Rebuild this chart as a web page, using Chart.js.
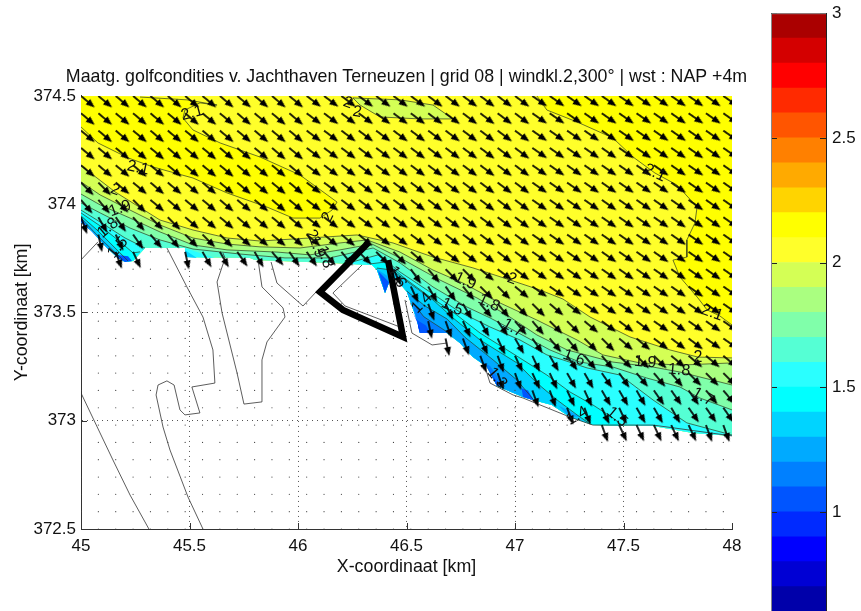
<!DOCTYPE html>
<html>
<head>
<meta charset="utf-8">
<script src="https://cdn.jsdelivr.net/npm/chart.js@4"></script>
<style>
  html, body { margin: 0; padding: 0; background: #fff; width: 861px; height: 611px; overflow: hidden; }
  #map { position: absolute; left: 0; top: 0; }
  #bar { position: absolute; left: 750px; top: -3px; }
</style>
</head>
<body>
<canvas id="map" width="813" height="611"></canvas>
<canvas id="bar" width="111" height="660"></canvas>
<script>
const titleText = 'Maatg. golfcondities v. Jachthaven Terneuzen | grid 08 | windkl.2,300° | wst : NAP +4m';

// colour bar levels, low to high
const levelEdges = [0.5, 0.6, 0.7, 0.8, 0.9, 1, 1.1, 1.2, 1.3, 1.4, 1.5, 1.6, 1.7, 1.8, 1.9, 2, 2.1, 2.2, 2.3, 2.4, 2.5, 2.6, 2.7, 2.8, 2.9, 3];
const levelColors = ['#00007f', '#0000aa', '#0000d4', '#0000ff', '#002aff', '#0055ff', '#0080ff', '#00aaff', '#00d4ff', '#00ffff',
  '#2affff', '#55ffd4', '#80ffaa', '#aaff80', '#d4ff55', '#ffff2a', '#ffff00', '#ffd400', '#ffaa00', '#ff8000', '#ff5500', '#ff2a00', '#ff0000', '#d40000', '#aa0000'];
const barTicks = [1, 1.5, 2, 2.5, 3];

// waterline in km, west to east
const shore = [[45,373.918],[45.055,373.872],[45.111,373.807],[45.17,373.752],[45.203,373.733],[45.24,373.738],[45.295,373.798],
  [45.479,373.798],[45.484,373.756],[45.779,373.752],[45.802,373.742],[46.161,373.729],[46.341,373.719],[46.364,373.696],[46.401,373.59],
  [46.424,373.65],[46.456,373.65],[46.502,373.595],[46.548,373.465],[46.562,373.405],[46.687,373.405],[46.746,373.359],[46.806,373.294],
  [46.871,373.248],[46.917,373.16],[47.037,373.11],[47.083,373.096],[47.17,373.073],[47.253,373.017],[47.359,372.98],[47.636,372.976],
  [47.82,372.943],[48,372.93]];

// contour lines (wave height, m)
const c21west = [[45,374.357],[45.078,374.283],[45.217,374.214],[45.332,374.172],[45.516,374.121],[45.673,374.052],[45.857,373.987],[45.977,373.936],
  [46.101,373.936],[46.157,373.973],[46.18,374.01],[46.009,374.135],[45.825,374.218],[45.641,374.283],[45.516,374.343],[45.47,374.398],
  [45.479,374.435],[45.548,374.468],[45.627,374.458],[45.488,374.482],[45.272,374.495]];
const c21east = [[47.101,374.5],[47.147,374.435],[47.286,374.38],[47.451,374.306],[47.544,374.218],[47.645,374.144],[47.746,374.089],[47.839,373.987],
  [47.829,373.913],[47.792,373.835],[47.792,373.756],[47.728,373.742],[47.76,373.664],[47.843,373.567],[47.885,373.512],[47.944,373.484],[48,373.442]];
const island20 = [[46.253,374.491],[46.47,374.482],[46.622,374.458],[46.714,374.394],[46.562,374.394],[46.378,374.403],[46.286,374.458],[46.253,374.491]];
const c20 = [[45,374.177],[45.074,374.121],[45.157,374.057],[45.364,373.927],[45.516,373.881],[45.673,373.844],[45.825,373.83],[46.055,373.844],[46.272,373.858],
  [46.438,373.821],[46.622,373.756],[46.806,373.706],[46.977,373.65],[47.115,373.604],[47.221,373.562],[47.346,373.479],[47.53,373.387],[47.714,373.327],[47.843,373.294],[48,373.29]];
const c19 = [[45,374.103],[45.088,374.043],[45.226,373.973],[45.364,373.904],[45.516,373.844],[45.673,373.816],[45.825,373.803],[46.009,373.798],[46.193,373.821],[46.318,373.835],
  [46.47,373.779],[46.622,373.696],[46.76,373.636],[46.931,373.544],[47.101,373.465],[47.286,373.373],[47.405,373.304],[47.576,373.267],[47.76,373.257],[48,373.267]];
const c18 = [[45,374.047],[45.088,373.997],[45.226,373.936],[45.364,373.872],[45.516,373.812],[45.673,373.789],[45.903,373.779],[46.055,373.766],[46.193,373.789],[46.341,373.816],
  [46.47,373.752],[46.654,373.65],[46.825,373.567],[46.963,373.488],[47.101,373.396],[47.24,373.327],[47.451,373.271],[47.636,373.248],[47.76,373.225],[48,373.165]];
const c17 = [[45,374.006],[45.088,373.96],[45.226,373.89],[45.364,373.835],[45.516,373.793],[45.733,373.77],[45.94,373.752],[46.147,373.752],[46.263,373.779],[46.346,373.798],
  [46.47,373.729],[46.622,373.618],[46.779,373.525],[46.885,373.475],[46.991,373.419],[47.161,373.327],[47.299,373.271],[47.451,373.248],[47.608,373.197],[47.76,373.156],[47.852,373.105],[48,373.05]];
const c16west = [[45,373.973],[45.088,373.918],[45.203,373.844],[45.295,373.798]];
const c16mid = [[45.479,373.798],[45.618,373.752]];
const c16east = [[46.216,373.724],[46.369,373.766],[46.47,373.687],[46.608,373.595],[46.746,373.502],[46.885,373.433],[47.023,373.373],[47.147,373.304],[47.221,373.281],
  [47.332,373.244],[47.484,373.211],[47.636,373.096],[47.792,372.99],[48,372.934]];
const c15west = [[45,373.96],[45.088,373.9],[45.17,373.835],[45.24,373.775],[45.272,373.78]];
const c15east = [[46.332,373.724],[46.401,373.733],[46.502,373.65],[46.608,373.572],[46.714,373.502],[46.839,373.405],[47,373.304],[47.147,373.211],[47.253,373.133],[47.359,373.073],[47.451,373.013],[47.498,372.976]];
const c14west = [[45,373.946],[45.074,373.881],[45.134,373.821],[45.217,373.738]];
const c14mid = [[45.479,373.789],[45.534,373.752]];
const c14east = [[46.364,373.705],[46.433,373.696],[46.525,373.627],[46.622,373.558],[46.714,373.475],[46.839,373.373],[47.009,373.267],[47.101,373.174],[47.194,373.096],[47.286,373.027],[47.346,372.985]];
const c13west = [[45,373.936],[45.065,373.867],[45.111,373.821],[45.189,373.747]];
const c13wedge = [[46.364,373.7],[46.425,373.66]];
const c13east = [[46.5,373.6],[46.585,373.53],[46.687,373.47],[46.77,373.385],[46.899,373.281],[47.009,373.188],[47.083,373.1]];
const c12west = [[45,373.93],[45.055,373.867],[45.124,373.793],[45.17,373.752]];
const c12east = [[46.525,373.55],[46.58,373.48],[46.687,373.41]];
const c12patch = [[46.82,373.29],[46.885,373.253],[46.954,373.156]];
const c12south = [[47.2,373.07],[47.3,373.02]];
const c11west = [[45,373.94],[45.03,373.89],[45.055,373.872]];
const c11spot = [[45.17,373.765],[45.217,373.76],[45.235,373.738]];
const c11wedge = [[46.37,373.69],[46.42,373.64]];
const c11east = [[46.548,373.465],[46.59,373.44],[46.608,373.405]];
const c11patch = [[46.871,373.25],[46.93,373.16]];
const c11south = [[47.03,373.15],[47.06,373.14],[47.085,373.097]];
const c10spot = [[46.53,373.5],[46.56,373.43],[46.56,373.405]];

// land outlines
const coastA = [[45.396,373.798],[45.488,373.618],[45.562,373.479],[45.608,373.327],[45.617,373.174],[45.511,373.156],[45.548,373.036],[45.479,373.027],[45.456,373.05],[45.429,373.165],
  [45.396,373.184],[45.355,373.165],[45.346,373.119],[45.378,372.971],[45.41,372.865],[45.493,372.648],[45.562,372.5]];
const coastB = [[45,373.128],[45.147,372.819],[45.226,372.657],[45.313,372.5]];
const coastC = [[45.654,373.775],[45.664,373.752],[45.627,373.641],[45.65,373.498],[45.719,373.221],[45.751,373.077],[45.834,373.087],[45.834,373.281],[45.857,373.364],[45.94,373.479],
  [45.931,373.521],[45.834,373.618],[45.816,373.742]];
const coastD = [[45.876,373.733],[45.903,373.636],[46.023,373.53],[46.092,373.604]];
const coastE = [[46.295,373.719],[46.161,373.59],[46.217,373.53],[46.47,373.433]];
const coastF = [[46.493,373.558],[46.525,373.405],[46.618,373.35],[46.687,373.359]];
const coastG = [[46.862,373.248],[46.885,373.174],[46.991,373.119],[47.037,373.105],[47.253,373.017],[47.359,372.98],[47.636,372.98],[48,372.93]];
const coastH = [[45,373.743],[45.078,373.826]];
const harbourDam = [[46.323,373.821],[46.101,373.595],[46.207,373.512],[46.484,373.387],[46.415,373.742]];

// wave vectors on the 80 m calculation grid
const gridX = [45,45.08,45.16,45.24,45.32,45.4,45.48,45.56,45.64,45.72,45.8,45.88,45.96,46.04,46.12,46.2,46.28,46.36,46.44,46.52,46.6,46.68,46.76,46.84,46.92,47,47.08,47.16,47.24,47.32,47.4,47.48,47.56,47.64,47.72,47.8,47.88,47.96];
const gridY = [374.5,374.42,374.34,374.26,374.18,374.1,374.02,373.94,373.86,373.78,373.7,373.62,373.54,373.46,373.38,373.3,373.22,373.14,373.06,372.98,372.9,372.82,372.74,372.66,372.58,372.5];
// direction below horizontal in degrees for each letter, '.' is a dry point
const dirCodes = { a: 35, b: 37, c: 40, d: 45, e: 50, f: 55, g: 60, h: 65, i: 70, j: 78 };
const waveDir = [
  'cccccccccccccbbbbbbbbbbbbbaaaaaaaaaaaa',
  'cccccccccccccbbbbbbbbbbbbbaaaaaaaaaaaa',
  'cccccccccccccbbbbbbbbbbbbbaaaaaaaaaaaa',
  'cccccccccccccbbbbbbbbbbbbbaaaaaaaaaaaa',
  'cccccccccccccbbbbbbbbbbbbbaaaaaaaaaaaa',
  'ddcccccccccccbbbbbbbbbbbbbaaaaaaaaaaaa',
  'eeddcccccccccbbbbbbbbbbbbbaaaaaaaaaaaa',
  'igfeddcccccccbbbbbbbbbbbbbaaaaaaaaaaaa',
  '.jhfeedddccccccccbbbbbbbbbaaaaaaaaaaaa',
  '..ih..jggfgeffeedddccbbbbbaaaaaaaaaaaa',
  '..................hfeddcbbaaaaaaaaaaaa',
  '...................hgfeddcaaaaaaaaaaaa',
  '....................ihgeeddcbaaaaaaaaa',
  '....................jihgfeeddcbbbaaaaa',
  '.....................jihhgfeeddccbbbaa',
  '.......................iihhgfeedddcccc',
  '........................iihhggffeeeddd',
  '..........................iihhgggfffee',
  '............................iihhgggfff',
  '..............................ihhhhhii',
  '......................................',
  '......................................',
  '......................................',
  '......................................',
  '......................................',
  '......................................'
];

// contour labels
const labelText = ['2.1','2.1','2','1.9','1.8','1.5','2','2','1.9','1.8','1.6','1.4','1.5','1.9','2','1.8','1.7','1.6','1.9','1.8','1.7','2','2.1','2.1','1.5','1.4','1.3','2','2'];
const labelX = [45.512,45.263,45.157,45.18,45.124,45.17,46.138,46.064,46.087,46.124,46.456,46.571,46.71,46.77,46.986,46.88,46.991,47.272,47.6,47.756,47.866,47.843,47.645,47.908,47.47,47.286,46.917,46.23,46.272];
const labelY = [374.421,374.167,374.066,373.98,373.89,373.8,373.94,373.858,373.803,373.756,373.664,373.544,373.525,373.645,373.655,373.544,373.428,373.29,373.27,373.234,373.11,373.29,374.144,373.498,373.017,373.022,373.197,374.468,374.426];
const labelAngle = [-15,12,20,-20,-40,-50,-65,60,70,70,60,-45,25,25,20,25,30,20,5,5,30,0,25,20,40,-30,50,20,10];

const FONT = '"Liberation Sans", Arial, sans-serif';

function pts(list) {
    return list.map(p => ({ x: p[0], y: p[1] }));
}

// polygon from a contour back along the waterline
function band(contour) {
    const x0 = contour[0][0];
    const x1 = contour[contour.length - 1][0];
    const back = shore.filter(p => p[0] >= x0 && p[0] <= x1).reverse();
    return contour.concat(back);
}

function area(points, color) {
    return { data: pts(points), showLine: true, fill: 'shape', backgroundColor: color, borderWidth: 0, pointRadius: 0, tension: 0 };
}

function line(points, color, width) {
    return { data: pts(points), showLine: true, fill: false, borderColor: color, borderWidth: width, pointRadius: 0, tension: 0 };
}

// arrow with its tail in the middle of the image, pointing right
function makeArrow() {
    const c = document.createElement('canvas');
    c.width = 44;
    c.height = 14;
    const g = c.getContext('2d');
    g.strokeStyle = '#000';
    g.fillStyle = '#000';
    g.lineWidth = 1.7;
    g.beginPath();
    g.moveTo(22, 7);
    g.lineTo(34, 7);
    g.stroke();
    g.beginPath();
    g.moveTo(40, 7);
    g.lineTo(31, 3.4);
    g.lineTo(31, 10.6);
    g.closePath();
    g.fill();
    return c;
}

const arrowPoints = [];
const arrowAngles = [];
const dryPoints = [];
gridY.forEach((y, r) => {
    gridX.forEach((x, c) => {
        const code = waveDir[r].charAt(c);
        if (dirCodes[code] !== undefined) {
            arrowPoints.push([x, y]);
            arrowAngles.push(dirCodes[code]);
        } else {
            dryPoints.push([x, y]);
        }
    });
});

// painted back to front
const layers = [];
layers.push(area(band([[45, 374.5], [48, 374.5]]), '#ffff2a'));
layers.push(area([[45, 374.5]].concat(c21west.slice().reverse()), '#ffff00'));
layers.push(area(c21east.concat([[48, 374.5]]), '#ffff00'));
layers.push(area(island20, '#d4ff55'));
const bandLayers = [
    [c20, '#d4ff55'], [c19, '#aaff80'], [c18, '#80ffaa'], [c17, '#55ffd4'],
    [c16west, '#2affff'], [c16mid, '#2affff'], [c16east, '#2affff'],
    [c15west, '#00ffff'], [c15east, '#00ffff'],
    [c14west, '#00d4ff'], [c14mid, '#00d4ff'], [c14east, '#00d4ff'],
    [c13west, '#00aaff'], [c13wedge, '#00aaff'], [c13east, '#00aaff'],
    [c12west, '#0080ff'], [c12east, '#0080ff'], [c12patch, '#0080ff'], [c12south, '#00aaff'],
    [c11west, '#0055ff'], [c11spot, '#0055ff'], [c11wedge, '#0055ff'], [c11east, '#0055ff'], [c11patch, '#0055ff'], [c11south, '#0055ff'],
    [c10spot, '#002aff']
];
bandLayers.forEach(b => layers.push(area(band(b[0]), b[1])));

[c21west, c21east, island20, c20, c19, c18, c17, c16west, c16east, c15west, c15east, c14west, c14east, c13west, c13east, c12east].forEach(c => {
    layers.push(line(c, '#2b3a20', 0.7));
});
[coastA, coastB, coastC, coastD, coastE, coastF, coastG, coastH].forEach(c => {
    layers.push(line(c, '#333', 0.8));
});
layers.push({ data: pts(dryPoints), pointRadius: 0.6, pointBackgroundColor: '#444', pointBorderWidth: 0 });
layers.push(line(harbourDam, '#000', 6.5));
layers.push({
    data: pts(arrowPoints),
    pointStyle: makeArrow(),
    pointRadius: 10,
    pointRotation: ctx => arrowAngles[ctx.dataIndex],
    clip: 0
});

// short ticks pointing into the plot
const innerTicks = {
    id: 'innerTicks',
    beforeDatasetsDraw(chart) {
        const g = chart.ctx;
        const a = chart.chartArea;
        g.save();
        g.strokeStyle = '#333';
        g.lineWidth = 1;
        g.beginPath();
        chart.scales.x.ticks.forEach(t => {
            const px = Math.round(chart.scales.x.getPixelForValue(t.value)) + 0.5;
            g.moveTo(px, a.bottom);
            g.lineTo(px, a.bottom - 6);
        });
        chart.scales.y.ticks.forEach(t => {
            const py = Math.round(chart.scales.y.getPixelForValue(t.value)) + 0.5;
            g.moveTo(a.left, py);
            g.lineTo(a.left + 6, py);
        });
        g.stroke();
        g.restore();
    }
};

// contour label text on top of everything
const contourLabels = {
    id: 'contourLabels',
    afterDatasetsDraw(chart) {
        const g = chart.ctx;
        g.save();
        g.fillStyle = '#111';
        g.font = '16px ' + FONT;
        g.textAlign = 'center';
        g.textBaseline = 'middle';
        labelText.forEach((t, i) => {
            g.save();
            g.translate(chart.scales.x.getPixelForValue(labelX[i]), chart.scales.y.getPixelForValue(labelY[i]));
            g.rotate(labelAngle[i] * Math.PI / 180);
            g.fillText(t, 0, 0);
            g.restore();
        });
        g.restore();
    }
};

new Chart(document.getElementById('map').getContext('2d'), {
    type: 'scatter',
    data: { datasets: layers.reverse() },
    plugins: [innerTicks, contourLabels],
    options: {
        responsive: false,
        animation: false,
        events: [],
        layout: { autoPadding: false, padding: 0 },
        plugins: {
            legend: { display: false },
            tooltip: { enabled: false },
            title: {
                display: true,
                text: titleText,
                color: '#111',
                font: { family: FONT, size: 17.8, weight: 'normal' },
                padding: { top: 66, bottom: 8.6 }
            }
        },
        scales: {
            x: {
                type: 'linear',
                min: 45,
                max: 48,
                afterFit: s => { s.height = 82; },
                border: { color: '#333', dash: [1, 4] },
                grid: { color: ctx => ctx.tick && ctx.tick.value === 48 ? 'transparent' : '#555', drawTicks: false },
                ticks: { stepSize: 0.5, padding: 7, color: '#111', maxRotation: 0, autoSkip: false, font: { family: FONT, size: 17 }, callback: v => String(v) },
                title: { display: true, text: 'X-coordinaat [km]', color: '#111', font: { family: FONT, size: 17.8 }, padding: { top: 0, bottom: 33 } }
            },
            y: {
                type: 'linear',
                min: 372.5,
                max: 374.5,
                afterFit: s => { s.width = 81; },
                border: { color: '#333', dash: [1, 4] },
                grid: { color: ctx => ctx.tick && ctx.tick.value === 374.5 ? 'transparent' : '#555', drawTicks: false },
                ticks: { stepSize: 0.5, padding: 5, color: '#111', autoSkip: false, font: { family: FONT, size: 17 }, callback: v => String(v) },
                title: { display: true, text: 'Y-coordinaat [km]', color: '#111', font: { family: FONT, size: 17.8 }, padding: { top: 11, bottom: 0 } }
            },
            // empty right axis so the title centres over the plot
            yRight: {
                type: 'linear',
                position: 'right',
                afterFit: s => { s.width = 81; },
                border: { display: false },
                grid: { display: false, drawTicks: false },
                ticks: { display: false }
            }
        }
    }
});

const barTickMarks = {
    id: 'barTickMarks',
    afterDatasetsDraw(chart) {
        const g = chart.ctx;
        const a = chart.chartArea;
        g.save();
        g.strokeStyle = '#222';
        g.lineWidth = 1;
        g.beginPath();
        barTicks.forEach(v => {
            const py = Math.round(chart.scales.y.getPixelForValue(v)) + 0.5;
            g.moveTo(a.left, py);
            g.lineTo(a.left + 6, py);
            g.moveTo(a.right - 6, py);
            g.lineTo(a.right, py);
        });
        g.stroke();
        // grey edge on the left and top
        g.strokeStyle = '#888';
        g.beginPath();
        g.moveTo(a.left + 0.5, a.bottom);
        g.lineTo(a.left + 0.5, a.top + 0.5);
        g.lineTo(a.right, a.top + 0.5);
        g.stroke();
        g.restore();
    }
};

new Chart(document.getElementById('bar').getContext('2d'), {
    type: 'bar',
    data: {
        labels: ['Hs'],
        datasets: levelColors.map((color, i) => ({
            data: [[levelEdges[i], levelEdges[i + 1]]],
            backgroundColor: color,
            borderWidth: 0,
            grouped: false,
            barPercentage: 1,
            categoryPercentage: 1
        }))
    },
    plugins: [barTickMarks],
    options: {
        responsive: false,
        animation: false,
        events: [],
        layout: { autoPadding: false, padding: { left: 21, top: 8, right: 0, bottom: 20.5 } },
        plugins: { legend: { display: false }, tooltip: { enabled: false }, title: { display: false } },
        scales: {
            x: { display: false },
            y: {
                position: 'right',
                min: 0.5,
                max: 3,
                afterFit: s => { s.width = 35; },
                border: { display: true, color: '#222' },
                grid: { display: false, drawTicks: false },
                ticks: {
                    stepSize: 0.5,
                    padding: 6,
                    color: '#111',
                    font: { family: FONT, size: 17 },
                    callback: v => barTicks.includes(v) ? String(v) : ''
                }
            }
        }
    }
});
</script>
</body>
</html>
